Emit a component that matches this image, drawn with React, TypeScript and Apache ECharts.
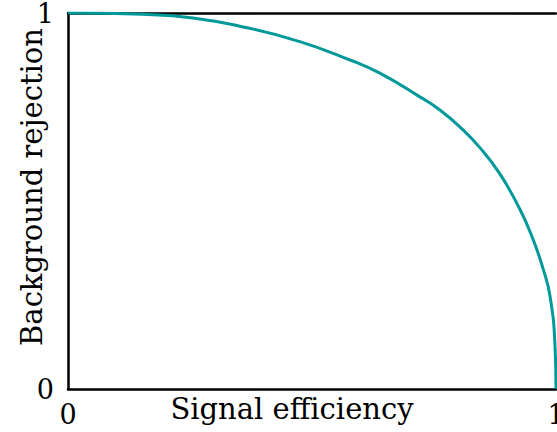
import React, { useEffect, useRef } from "react";
import * as echarts from "echarts";

const signalEff = [0, 0.154, 0.256, 0.359, 0.475, 0.578, 0.639, 0.721, 0.762, 0.803, 0.844, 0.885, 0.926, 0.953, 0.973, 0.988, 0.998, 1.0];
const bkgRej = [1.0, 0.9965, 0.987, 0.963, 0.924, 0.875, 0.84, 0.777, 0.742, 0.697, 0.642, 0.572, 0.478, 0.398, 0.322, 0.245, 0.112, 0];
const xTicks = ["0", "1"];
const yTicks = ["0", "1"];

const FONT = "DejaVu Serif";

export default function App() {
  const ref = useRef<HTMLDivElement>(null);
  useEffect(() => {
    const chart = echarts.init(ref.current!, null, { renderer: "svg" });
    const data = signalEff.map((x, i) => [x, bkgRej[i]]);
    chart.setOption({
      animation: false,
      textStyle: { fontFamily: FONT },
      grid: { left: 68, top: 13, right: 1, bottom: 43, containLabel: false, outerBoundsMode: "none" },
      xAxis: [
        {
          type: "value",
          min: 0,
          max: 1,
          interval: 1,
          name: "Signal efficiency",
          nameLocation: "middle",
          nameGap: 5,
          nameMoveOverlap: false,
          nameTextStyle: { fontFamily: FONT, fontSize: 29, color: "#000", padding: [0, 40, 0, 0] },
          axisLine: { show: true, lineStyle: { color: "#000", width: 2.5 } },
          axisTick: { show: false },
          splitLine: { show: false },
          axisLabel: {
            fontFamily: FONT,
            fontSize: 27,
            color: "#000",
            margin: 12,
            formatter: (v: number) => (v === 0 ? xTicks[0] : xTicks[1]),
          },
        },
        {
          type: "value",
          position: "top",
          min: 0,
          max: 1,
          axisLine: { show: true, onZero: false, lineStyle: { color: "#000", width: 2.5 } },
          axisTick: { show: false },
          axisLabel: { show: false },
          splitLine: { show: false },
        },
      ],
      yAxis: {
        type: "value",
        min: 0,
        max: 1,
        interval: 1,
        name: "Background rejection",
        nameLocation: "middle",
        nameGap: 22,
        nameMoveOverlap: false,
        nameTextStyle: { fontFamily: FONT, fontSize: 29, color: "#000", padding: [0, 0, 0, 28] },
        axisLine: { show: true, lineStyle: { color: "#000", width: 2.5 } },
        axisTick: { show: false },
        splitLine: { show: false },
        axisLabel: {
          fontFamily: FONT,
          fontSize: 27,
          color: "#000",
          margin: 14,
          formatter: (v: number) => (v === 0 ? yTicks[0] : yTicks[1]),
        },
      },
      series: [
        {
          type: "line",
          data,
          smooth: 0.5,
          showSymbol: false,
          lineStyle: { color: "#009999", width: 3 },
        },
      ],
    });
    return () => chart.dispose();
  }, []);
  return <div ref={ref} style={{ width: 557, height: 432, position: "absolute", left: 0, top: 0 }} />;
}
